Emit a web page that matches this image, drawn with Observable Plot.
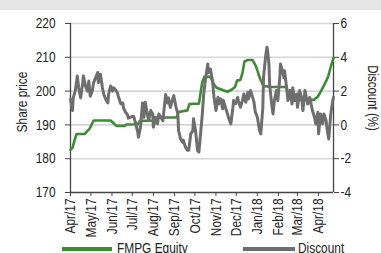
<!DOCTYPE html>
<html>
<head>
<meta charset="utf-8">
<script src="https://cdn.jsdelivr.net/npm/d3@7"></script>
<script src="https://cdn.jsdelivr.net/npm/@observablehq/plot@0.6"></script>
<style>
  html, body { margin: 0; padding: 0; background: #fff; }
  body { width: 381px; height: 253px; overflow: hidden; position: relative;
         font-family: 'Liberation Sans', Arial, sans-serif; }
  #band { height: 10px; background: #e6e6e6; }
  #chart svg { display: block; overflow: visible; }
  #legend { position: relative; height: 21px; font-size: 14.5px; color: #222; }
  .sw { position: absolute; height: 4px; top: 15px; }
  .lt { position: absolute; top: 9px; line-height: 14px; white-space: nowrap;
        transform: scaleX(0.82); transform-origin: 0 0; }
</style>
</head>
<body>
<div id="band"></div>
<div id="chart"></div>
<div id="legend">
  <div class="sw" style="left:62px;width:50px;background:#3f8a35"></div>
  <div class="lt" style="left:117px">FMPG Equity</div>
  <div class="sw" style="left:243px;width:52px;background:#6e6e6e"></div>
  <div class="lt" style="left:298px">Discount</div>
</div>
<script>
// ---- data ----
const priceDates = ["2017-04-01","2017-04-04","2017-04-07","2017-04-10","2017-04-22","2017-04-25","2017-04-28","2017-04-30","2017-05-03","2017-05-05","2017-05-30","2017-06-05","2017-06-08","2017-06-20","2017-06-22","2017-07-09","2017-07-12","2017-08-04","2017-08-07","2017-09-04","2017-09-07","2017-09-20","2017-09-23","2017-10-07","2017-10-09","2017-10-12","2017-10-15","2017-10-24","2017-10-29","2017-11-02","2017-11-11","2017-11-18","2017-11-24","2017-11-29","2017-12-02","2017-12-07","2017-12-10","2017-12-13","2017-12-18","2017-12-25","2017-12-29","2018-01-01","2018-01-03","2018-01-06","2018-01-10","2018-01-21","2018-02-12","2018-02-16","2018-02-22","2018-02-26","2018-03-25","2018-03-31","2018-04-04","2018-04-09","2018-04-15","2018-04-19","2018-04-23"];
const priceValues = [182.6,183.2,185.5,187.3,187.3,188,188.6,189.2,190.5,191.3,191.3,190.2,189.7,189.7,190.1,190.2,191.2,191.3,192.2,192.2,193.8,194.3,196.2,196.3,199,202.7,204.2,204.2,202,201,200.3,199.8,200.4,201.2,203.1,203.3,205.3,208.8,209.2,209.2,207.7,206.2,204.7,203.2,201.5,201.2,201.2,199.2,197.6,197.4,197.4,198.4,199.8,201.7,204.2,207.2,209.8];

const discDates = ["2017-04-01","2017-04-04","2017-04-05","2017-04-08","2017-04-11","2017-04-13","2017-04-16","2017-04-19","2017-04-20","2017-04-23","2017-04-26","2017-04-28","2017-04-30","2017-05-03","2017-05-05","2017-05-08","2017-05-11","2017-05-12","2017-05-15","2017-05-18","2017-05-20","2017-05-23","2017-05-26","2017-05-27","2017-05-30","2017-06-02","2017-06-03","2017-06-06","2017-06-09","2017-06-11","2017-06-14","2017-06-17","2017-06-18","2017-06-21","2017-06-24","2017-06-25","2017-06-28","2017-07-01","2017-07-03","2017-07-06","2017-07-09","2017-07-10","2017-07-13","2017-07-16","2017-07-18","2017-07-20","2017-07-23","2017-07-25","2017-07-28","2017-07-31","2017-08-01","2017-08-04","2017-08-07","2017-08-09","2017-08-12","2017-08-15","2017-08-16","2017-08-19","2017-08-22","2017-08-23","2017-08-26","2017-08-29","2017-08-31","2017-09-03","2017-09-06","2017-09-07","2017-09-10","2017-09-13","2017-09-14","2017-09-17","2017-09-20","2017-09-22","2017-09-25","2017-09-28","2017-09-29","2017-10-02","2017-10-05","2017-10-07","2017-10-09","2017-10-12","2017-10-14","2017-10-17","2017-10-20","2017-10-21","2017-10-24","2017-10-27","2017-10-29","2017-11-01","2017-11-04","2017-11-05","2017-11-08","2017-11-11","2017-11-12","2017-11-15","2017-11-18","2017-11-20","2017-11-23","2017-11-26","2017-11-27","2017-11-30","2017-12-03","2017-12-04","2017-12-07","2017-12-10","2017-12-12","2017-12-15","2017-12-18","2017-12-19","2017-12-22","2017-12-25","2017-12-27","2017-12-29","2018-01-01","2018-01-04","2018-01-06","2018-01-09","2018-01-10","2018-01-13","2018-01-15","2018-01-16","2018-01-18","2018-01-19","2018-01-22","2018-01-24","2018-01-26","2018-01-29","2018-01-31","2018-02-03","2018-02-04","2018-02-07","2018-02-09","2018-02-10","2018-02-13","2018-02-15","2018-02-18","2018-02-21","2018-02-22","2018-02-25","2018-02-28","2018-03-01","2018-03-04","2018-03-07","2018-03-09","2018-03-12","2018-03-15","2018-03-16","2018-03-19","2018-03-22","2018-03-23","2018-03-26","2018-03-28","2018-03-31","2018-04-01","2018-04-04","2018-04-07","2018-04-09","2018-04-12","2018-04-15","2018-04-16","2018-04-19","2018-04-22","2018-04-23"];
const discValues = [1.5,0.85,1.6,2.0,2.9,2.2,1.6,2.5,2.9,2.3,2.0,2.6,1.7,2.0,2.5,2.8,3.1,2.5,3.0,2.2,1.8,1.5,1.3,1.8,2.3,2.0,2.2,2.1,1.9,1.6,1.25,1.3,1.0,0.75,0.6,0.4,0.45,0.5,0.5,0.06,-0.44,-0.73,-0.14,1.3,0.45,1.34,0.65,0.25,0.85,0.65,-0.14,0.45,0.06,0.65,0.45,0.25,0.65,1.8,1.3,1.6,1.04,1.5,1.73,1.1,0.65,-0.34,-0.83,-1.03,-0.9,-1.3,-1.5,-1.5,-0.53,-0.34,0.36,-0.34,-1.52,-1.6,-0.7,0.65,1.83,2.8,3.6,3.1,3.3,2.6,1.7,0.85,1.63,1.24,1.54,0.95,1.44,1.04,0.65,0.37,0.06,1.04,1.44,1.25,1.63,1.44,1.04,1.44,1.83,1.34,1.93,1.54,2.03,1.63,1.34,0.75,0.45,-0.3,-0.53,1.0,2.8,4.0,4.6,4.4,3.6,2.4,1.24,0.65,1.44,2.03,1.44,2.8,3.6,3.2,2.8,3.2,2.2,1.44,2.03,1.24,2.2,1.44,1.83,1.04,2.03,1.63,0.85,2.03,1.44,1.24,1.63,1.04,0.85,0.45,0.06,0.75,-0.53,0.65,0.06,0.65,0.25,-0.63,-0.83,0.65,1.44,1.63];

const xDomain = ["2017-04-01", "2018-04-23"];
const monthTicks = ["2017-04-01","2017-05-01","2017-06-01","2017-07-01","2017-08-01","2017-09-01","2017-10-01","2017-11-01","2017-12-01","2018-01-01","2018-02-01","2018-03-01","2018-04-01"];
const priceTicks = [170, 180, 190, 200, 210, 220];
const gridTicks = [180, 190, 200, 210, 220];
const discTicks = [-4, -2, 0, 2, 4, 6];
// discount axis is aligned so that 0% sits at 190 and 2% per 10 price units
const discZero = 190, discPerUnit = 5;

const parse = d3.utcParse("%Y-%m-%d");
const price = priceDates.map((d, i) => ({date: parse(d), v: priceValues[i]}));
const disc = discDates.map((d, i) => ({date: parse(d), v: discZero + discPerUnit * discValues[i]}));

const axisColor = "#444";
const plot = Plot.plot({
  width: 381,
  height: 222,
  marginLeft: 70,
  marginRight: 48,
  marginTop: 13,
  marginBottom: 40,
  style: {fontFamily: "'Liberation Sans',Arial,sans-serif", fontSize: "14.5px", color: "#222", background: "transparent"},
  x: {type: "utc", domain: xDomain.map(parse)},
  y: {domain: [170, 220]},
  marks: [
    Plot.gridY(gridTicks, {stroke: "#d6d6d6", strokeOpacity: 1, strokeWidth: 1.6}),
    Plot.axisY(priceTicks, {anchor: "left", tickSize: 5, tickPadding: 10, stroke: axisColor, label: null, tickFormat: d => String(d)}),
    Plot.axisY(discTicks.map(t => discZero + discPerUnit * t), {anchor: "right", tickSize: 5, tickPadding: 2, stroke: axisColor, label: null, tickFormat: v => String((v - discZero) / discPerUnit).replace("\u2212", "-")}),
    Plot.axisX(monthTicks.map(parse), {anchor: "bottom", tickSize: 4, tickPadding: 2, tickRotate: -90, stroke: axisColor, label: null, tickFormat: d3.utcFormat("%b/%y")}),
    Plot.ruleX(xDomain.map(parse), {stroke: axisColor, strokeWidth: 1.3}),
    Plot.ruleY([170], {stroke: axisColor, strokeWidth: 1.3}),
    Plot.line(price, {x: "date", y: "v", stroke: "#3f8a35", strokeWidth: 2.6, curve: "linear"}),
    Plot.line(disc, {x: "date", y: "v", stroke: "#6e6e6e", strokeWidth: 3, curve: "linear"})
  ]
});
document.getElementById("chart").appendChild(plot);

// axis titles (page coords minus 10px band)
const svg = d3.select(plot);
svg.append("text").attr("transform", "translate(23,92) rotate(-90)")
  .attr("text-anchor", "middle").attr("dominant-baseline", "middle")
  .attr("font-size", "14.5px").attr("fill", "#222").text("Share price");
svg.append("text").attr("transform", "translate(372,88) rotate(90)")
  .attr("text-anchor", "middle").attr("dominant-baseline", "middle")
  .attr("font-size", "14px").attr("fill", "#222").text("Discount (%)");

// narrow the glyphs along their writing direction (Arial Narrow look)
plot.querySelectorAll("text").forEach(t => {
  const x = parseFloat(t.getAttribute("x") || "0") || 0;
  const tr = t.getAttribute("transform") || "";
  t.setAttribute("x", 0);
  t.setAttribute("transform", `${tr} translate(${x},0) scale(0.82,1)`);
});
</script>
</body>
</html>
